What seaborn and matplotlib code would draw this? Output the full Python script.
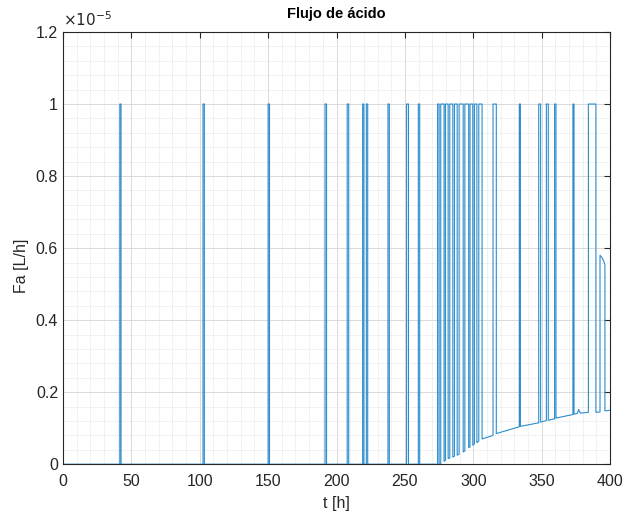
import numpy as np
import pandas as pd
import matplotlib
matplotlib.use("Agg")
import matplotlib.pyplot as plt
from matplotlib.ticker import MultipleLocator, FuncFormatter
import seaborn as sns

sns.set_style("white")
plt.rcParams['font.family'] = ['Liberation Sans', 'DejaVu Sans']

# vertices of the Fa(t) trace (Fa in units of 1e-5 L/h)
t_h = [0,
       41.6, 41.6, 42.5, 42.5,
       102.4, 102.4, 103.4, 103.4,
       150.0, 150.0, 151.0, 151.0,
       191.6, 191.6, 192.7, 192.7,
       207.8, 207.8, 208.9, 208.9,
       219.1, 219.1, 220.0, 220.0,
       221.8, 221.8, 222.8, 222.8,
       237.6, 237.6, 238.6, 238.6,
       251.2, 251.2, 252.6, 252.6,
       259.8, 259.8, 260.8, 260.8,
       273.9, 273.9, 275.0, 275.0,
       276.2, 276.2, 278.6, 278.6,
       279.6, 279.6, 281.6, 281.6,
       282.8, 282.8, 285.0, 285.0,
       286.2, 286.2, 288.2, 288.2,
       289.6, 289.6, 292.6, 292.6,
       293.8, 293.8, 296.6, 296.6,
       297.6, 297.6, 299.6, 299.6,
       300.8, 300.8, 302.6, 302.6,
       304.0, 304.0, 306.4, 306.4,
       314.4, 314.4, 316.8, 316.8,
       333.6, 333.6, 334.4, 334.4,
       347.8, 347.8, 349.2, 349.2,
       353.4, 353.4, 354.8, 354.8,
       359.4, 359.4, 360.4, 360.4,
       372.8, 372.8, 373.6, 373.6,
       376.0, 377.0, 378.2,
       384.1, 384.1, 389.6, 389.6,
       392.6, 392.6, 393.8, 395.2, 396.2, 396.2,
       400.0]

fa_e5 = [0,
         0, 1, 1, 0,
         0, 1, 1, 0,
         0, 1, 1, 0,
         0, 1, 1, 0,
         0, 1, 1, 0,
         0, 1, 1, 0,
         0, 1, 1, 0,
         0, 1, 1, 0,
         0, 1, 1, 0,
         0, 1, 1, 0,
         0, 1, 1, 0,
         0, 1, 1, 0.008,
         0.011, 1, 1, 0.016,
         0.017, 1, 1, 0.020,
         0.022, 1, 1, 0.025,
         0.028, 1, 1, 0.034,
         0.037, 1, 1, 0.046,
         0.048, 1, 1, 0.053,
         0.056, 1, 1, 0.060,
         0.064, 1, 1, 0.070,
         0.080, 1, 1, 0.085,
         0.104, 1, 1, 0.105,
         0.115, 1, 1, 0.117,
         0.121, 1, 1, 0.122,
         0.126, 1, 1, 0.128,
         0.138, 1, 1, 0.139,
         0.141, 0.152, 0.142,
         0.144, 1, 1, 0.144,
         0.145, 0.58, 0.575, 0.565, 0.553, 0.148,
         0.150]

df = pd.DataFrame({'t': t_h, 'Fa': np.array(fa_e5) * 1e-5})

fig, ax = plt.subplots(figsize=(6.29, 5.21), dpi=100)
fig.subplots_adjust(left=0.100, right=0.970, bottom=0.109, top=0.9386)

sns.lineplot(data=df, x='t', y='Fa', estimator=None, sort=False,
             color='#2c8ccc', linewidth=0.8, ax=ax)

ax.set_xlim(0, 400)
ax.set_ylim(0, 1.2e-5)
ax.xaxis.set_major_locator(MultipleLocator(50))
ax.xaxis.set_minor_locator(MultipleLocator(10))
ax.yaxis.set_major_locator(MultipleLocator(0.2e-5))
ax.yaxis.set_minor_locator(MultipleLocator(0.04e-5))
ax.yaxis.set_major_formatter(FuncFormatter(lambda v, p: '%g' % round(v / 1e-5, 3)))

ax.grid(which='major', color='#d9d9d9', linewidth=0.7)
ax.grid(which='minor', color='#e2e2e2', linewidth=0.6, linestyle=(0, (1, 1)))
ax.set_axisbelow(True)

txt = '#262626'
for s in ax.spines.values():
    s.set_color(txt)
    s.set_linewidth(0.8)
ax.tick_params(which='major', direction='in', length=4, top=True, right=True,
               labelsize=11.5, colors=txt, width=0.8)
ax.tick_params(axis='x', which='major', pad=7)
ax.tick_params(which='minor', length=0)

ax.text(0.0, 1.008, r'$\times10^{-5}$', transform=ax.transAxes, fontsize=11,
        color=txt, ha='left', va='bottom')

ax.set_title('Flujo de ácido', fontsize=10.5, fontweight='bold', color='black', pad=10)
ax.set_xlabel('t [h]', fontsize=11.5, color=txt, labelpad=5)
ax.set_ylabel('Fa [L/h]', fontsize=11.5, color=txt)
ax.yaxis.set_label_coords(-0.062, 0.46)

fig.savefig('out.png', dpi=100, facecolor='white')
